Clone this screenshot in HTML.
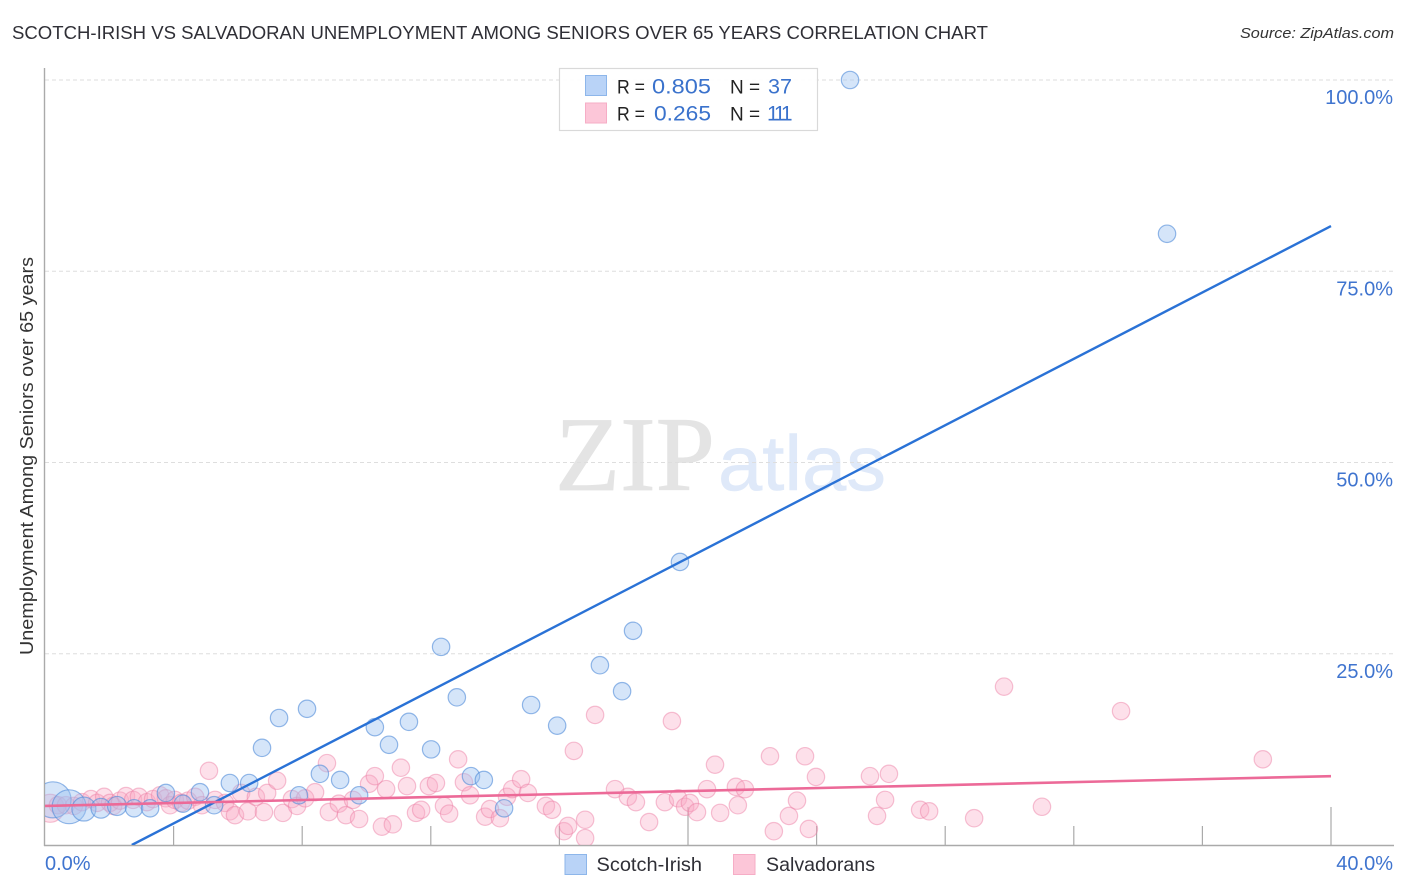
<!DOCTYPE html>
<html lang="en">
<head>
<meta charset="utf-8">
<title>Scotch-Irish vs Salvadoran Unemployment Chart</title>
<style>
html,body{margin:0;padding:0;background:#fff;}
svg{display:block;font-family:"Liberation Sans",sans-serif;}
</style>
</head>
<body>
<svg id="chart" xmlns="http://www.w3.org/2000/svg" width="1406" height="892" viewBox="0 0 1406 892">
  <defs><clipPath id="plot-clip"><rect x="45" y="60" width="1349" height="785"/></clipPath></defs>
  <rect x="0" y="0" width="1406" height="892" fill="#fff"/>
  <text x="12" y="39" font-size="18.5" fill="#2f2f36" textLength="976" lengthAdjust="spacingAndGlyphs">SCOTCH-IRISH VS SALVADORAN UNEMPLOYMENT AMONG SENIORS OVER 65 YEARS CORRELATION CHART</text>
  <text x="1394" y="38" font-size="15" font-style="italic" fill="#333" text-anchor="end" textLength="154" lengthAdjust="spacingAndGlyphs">Source: ZipAtlas.com</text>
  <g>
    <text x="555" y="490" font-family="'Liberation Serif',serif" font-size="106" fill="#e4e4e4" stroke="#e4e4e4" stroke-width="0.8" textLength="160" lengthAdjust="spacingAndGlyphs">ZIP</text>
    <text x="718" y="490" font-size="78" fill="#dfe9f9" stroke="#dfe9f9" stroke-width="0.6" textLength="168" lengthAdjust="spacingAndGlyphs">atlas</text>
  </g>
  <g id="grid"></g>
  <g id="axes"></g>
  <g id="ticks"></g>
  <g id="labels"></g>
  <text transform="translate(33,456) rotate(-90)" font-size="18" fill="#333" text-anchor="middle" textLength="398" lengthAdjust="spacingAndGlyphs">Unemployment Among Seniors over 65 years</text>
  <g clip-path="url(#plot-clip)">
    <g id="pink-points"></g>
    <g id="blue-points"></g>
    <g id="trends"></g>
  </g>
  <g>
    <rect x="559.5" y="68.5" width="258" height="62" fill="#fff" fill-opacity="0.9" stroke="#d9d9d9" stroke-width="1.2"/>
    <rect x="585.5" y="75.5" width="21" height="20" fill="#b9d3f7" stroke="#8db6ea"/>
    <rect x="585.5" y="103" width="21" height="20" fill="#fcc6d8" stroke="#f6adc6"/>
    <text x="617" y="93.5" font-size="19" fill="#222" textLength="28" lengthAdjust="spacingAndGlyphs">R =</text>
    <text x="652" y="93.5" font-size="21" fill="#3a72cc" textLength="59" lengthAdjust="spacingAndGlyphs">0.805</text>
    <text x="730" y="93.5" font-size="19" fill="#222">N =</text>
    <text x="768" y="93.5" font-size="21" fill="#3a72cc" textLength="24" lengthAdjust="spacingAndGlyphs">37</text>
    <text x="617" y="120.5" font-size="19" fill="#222" textLength="28" lengthAdjust="spacingAndGlyphs">R =</text>
    <text x="654" y="120.5" font-size="21" fill="#3a72cc" textLength="57" lengthAdjust="spacingAndGlyphs">0.265</text>
    <text x="730" y="120.5" font-size="19" fill="#222">N =</text>
    <text x="767" y="120.5" font-size="21" fill="#3a72cc" letter-spacing="-3.2">111</text>
  </g>
  <g>
    <rect x="565" y="854.5" width="21.5" height="20" fill="#b9d3f7" stroke="#8db6ea"/>
    <text x="596.5" y="871" font-size="19.5" fill="#2f2f36" textLength="105.5" lengthAdjust="spacingAndGlyphs">Scotch-Irish</text>
    <rect x="733.5" y="854.5" width="21.5" height="20" fill="#fcc6d8" stroke="#f6adc6"/>
    <text x="766" y="871" font-size="19.5" fill="#2f2f36" textLength="109" lengthAdjust="spacingAndGlyphs">Salvadorans</text>
  </g>
</svg>
<script>
var blueX = [0.25,0.75,1.21,1.74,2.24,2.77,3.27,3.76,4.29,4.82,5.26,5.75,6.35,6.75,7.28,8.15,7.90,8.55,9.18,9.77,10.26,10.70,11.32,12.01,12.32,12.81,13.25,13.65,14.28,15.12,15.93,17.26,17.95,18.29,19.75,25.04,34.90];
var blueY = [5.9,5.0,4.7,4.8,5.1,4.8,4.8,6.8,5.4,6.9,5.2,8.1,8.1,12.7,16.6,17.8,6.5,9.3,8.5,6.5,15.4,13.1,16.1,12.5,25.9,19.3,9.0,8.5,4.8,18.3,15.6,23.5,20.1,28.0,37.0,100,79.9];
var blueWeight = [4.3,3.8,1.9,1.3,1.2,1,1,1,1,1,1,1,1,1,1,1,1,1,1,1,1,1,1,1,1,1,1,1,1,1,1,1,1,1,1,1,1];
var pinkX = [0.16,0.40,0.65,0.90,1.15,1.43,1.62,1.84,2.02,2.12,2.33,2.52,2.74,2.92,3.17,3.36,3.58,3.76,3.89,4.04,4.23,4.45,4.67,4.88,5.10,5.29,5.60,5.75,5.91,6.10,6.31,6.56,6.81,6.91,7.22,7.40,7.68,7.84,8.09,8.40,8.77,8.83,9.14,9.36,9.58,9.77,10.08,10.26,10.61,10.48,10.82,11.07,11.26,11.54,11.70,11.94,12.16,12.41,12.57,12.85,13.03,13.22,13.69,13.84,14.15,14.37,14.53,14.81,15.02,15.58,15.77,16.14,16.27,16.45,16.80,16.80,17.11,17.73,18.13,18.38,18.79,19.28,19.50,19.69,19.91,20.06,20.28,20.59,20.84,21.00,21.49,21.55,21.77,22.55,22.67,23.14,23.39,23.64,23.76,23.98,25.66,25.88,26.13,26.25,27.22,27.50,28.90,29.83,31.01,33.47,37.88];
var pinkY = [4.8,5.2,5.2,5.1,5.6,6.0,5.5,6.3,5.5,5.1,5.8,6.4,5.9,6.3,5.6,6.0,6.5,6.1,5.2,5.9,5.5,5.8,6.3,5.2,9.7,5.9,5.5,4.4,3.9,6.8,4.4,6.3,4.3,6.8,8.4,4.2,6.0,5.1,6.1,6.9,10.7,4.3,5.4,3.9,5.9,3.4,8.0,9.0,7.3,2.4,2.7,10.1,7.7,4.2,4.6,7.7,8.1,5.1,4.1,11.2,8.2,6.5,3.7,4.7,3.5,6.3,7.3,8.6,6.8,5.1,4.6,1.8,2.5,12.3,3.3,0.9,17.0,7.3,6.3,5.6,3.0,5.6,16.2,6.1,5.0,5.5,4.3,7.3,10.5,4.2,7.6,5.2,7.3,11.6,1.8,3.8,5.8,11.6,2.1,8.9,9.0,3.8,5.9,9.3,4.6,4.4,3.5,20.7,5.0,17.5,11.2];
var pinkFirstWeight = [2.6];
var blueTrendX = [2.7,40];
var blueTrendY = [0,80.9];
var pinkTrendX = [0,40];
var pinkTrendY = [5.1,9.0];
var yTicks = [100,75,50,25];
var yTickLabels = ["100.0%","75.0%","50.0%","25.0%"];
var xMinor = [4,8,12,16,20,24,28,32,36,40];
var xMajor = [20,40];
var xEndLabels = ["0.0%","40.0%"];

var NS = "http://www.w3.org/2000/svg";
function xs(v){ return 45 + v * 32.15; }
function ys(v){ return 845 - v * 7.65; }
function make(tag, parentId, attrs){
  var el = document.createElementNS(NS, tag);
  for (var k in attrs) el.setAttribute(k, attrs[k]);
  document.getElementById(parentId).appendChild(el);
  return el;
}

yTicks.forEach(function(t, i){
  var g = make("line", "grid", {x1:45, x2:1394, y1:ys(t), y2:ys(t), stroke:"#dedede", "stroke-width":1, "stroke-dasharray":"4 3"});
  
  
  var l = make("text", "labels", {x:1393, y:ys(t)+24, "font-size":20, fill:"#3f74cf", "text-anchor":"end"});
  l.textContent = yTickLabels[i];
  
  
});

var yAxisLine = make("line", "axes", {x1:44.5, x2:44.5, y1:68, y2:846, stroke:"#aaa", "stroke-width":1.4});


var xAxisLine = make("line", "axes", {x1:44, x2:1394, y1:845.5, y2:845.5, stroke:"#aaa", "stroke-width":1.4});



xMinor.forEach(function(t){
  var major = xMajor.indexOf(t) >= 0;
  var tick = make("line", "ticks", {x1:xs(t), x2:xs(t), y1:major ? 807 : 826, y2:845, stroke:"#aaa", "stroke-width":1.2});
  
  
});

var x0Label = make("text", "labels", {x:45, y:870, "font-size":20, fill:"#3f74cf"});
x0Label.textContent = xEndLabels[0];


var x1Label = make("text", "labels", {x:1393, y:870, "font-size":20, fill:"#3f74cf", "text-anchor":"end"});
x1Label.textContent = xEndLabels[1];



pinkX.forEach(function(v, i){
  var w = i < pinkFirstWeight.length ? pinkFirstWeight[i] : 1;
  var c = make("circle", "pink-points", {cx:xs(v), cy:ys(pinkY[i]), r:8.7*Math.sqrt(w), fill:"#f9a8c4", "fill-opacity":0.36, stroke:"#ec7fa5", "stroke-opacity":0.48, "stroke-width":1.2});
  
  
});

blueX.forEach(function(v, i){
  var c = make("circle", "blue-points", {cx:xs(v), cy:ys(blueY[i]), r:8.7*Math.sqrt(blueWeight[i]), fill:"#9cc0f0", "fill-opacity":0.42, stroke:"#4f8ad8", "stroke-opacity":0.6, "stroke-width":1.2});
  
  
});

var blueLine = make("line", "trends", {x1:xs(blueTrendX[0]), y1:ys(blueTrendY[0]), x2:xs(blueTrendX[1]), y2:ys(blueTrendY[1]), stroke:"#2a72d6", "stroke-width":2.4});


var pinkLine = make("line", "trends", {x1:xs(pinkTrendX[0]), y1:ys(pinkTrendY[0]), x2:xs(pinkTrendX[1]), y2:ys(pinkTrendY[1]), stroke:"#ec6a98", "stroke-width":2.6});


</script>
</body>
</html>
